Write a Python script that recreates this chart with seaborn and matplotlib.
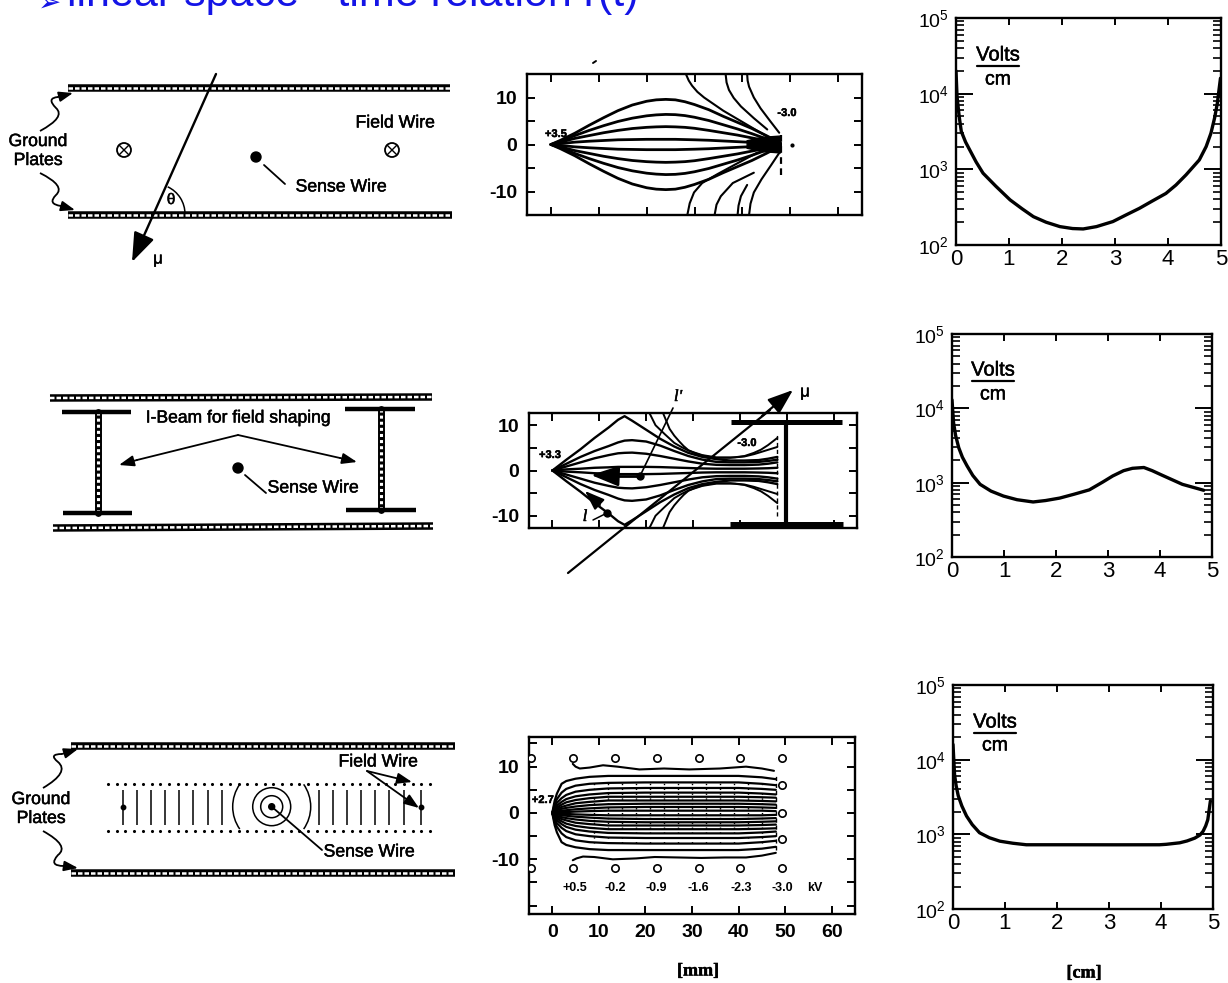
import matplotlib
matplotlib.use("Agg")
import matplotlib.pyplot as plt
import matplotlib.patheffects as pe
from matplotlib.patches import Arc, Circle, PathPatch
from matplotlib.path import Path
import numpy as np
import seaborn as sns

# field strength curves, right column (cm, V/cm)
top_x = [0.0, 0.02, 0.06, 0.1, 0.18, 0.26, 0.38, 0.51, 0.75, 1.02, 1.25, 1.46, 1.7, 1.96, 2.2, 2.4, 2.65, 2.96, 3.2, 3.46, 3.7, 3.96, 4.15, 4.34, 4.59, 4.72, 4.81, 4.88, 4.93, 4.99]
top_e = [20000, 9100, 5000, 3170, 2300, 1800, 1250, 890, 600, 395, 300, 237, 200, 175, 165, 163, 175, 204, 248, 305, 380, 480, 620, 845, 1330, 2000, 3000, 4800, 7400, 16000]
mid_x = [0.0, 0.03, 0.07, 0.13, 0.2, 0.29, 0.4, 0.54, 0.75, 0.99, 1.25, 1.56, 1.8, 2.07, 2.35, 2.64, 2.9, 3.09, 3.3, 3.47, 3.69, 3.85, 4.04, 4.43, 4.84]
mid_e = [13000, 6400, 4300, 2950, 2200, 1680, 1250, 950, 770, 660, 590, 550, 575, 620, 700, 800, 1020, 1230, 1450, 1560, 1600, 1450, 1260, 950, 790]
bot_x = [0.0, 0.03, 0.06, 0.1, 0.17, 0.26, 0.37, 0.51, 0.7, 0.9, 1.15, 1.41, 2.18, 3.14, 3.97, 4.1, 4.36, 4.5, 4.65, 4.75, 4.81, 4.86, 4.9, 4.95]
bot_e = [16000, 6300, 4500, 3300, 2400, 1760, 1350, 1050, 900, 810, 760, 725, 725, 724, 725, 735, 770, 815, 890, 980, 1100, 1300, 1570, 2800]

# field lines, first panel (mm, mm)
a_x = [0, 2, 5, 8, 11, 14, 17, 20, 22, 24, 26, 28, 30, 33, 36, 39, 42, 45, 48]
a_lines = [
    [0, 0.9, 2.4, 4.1, 5.7, 7.2, 8.4, 9.2, 9.5, 9.6, 9.5, 9.1, 8.5, 7.4, 6.0, 4.7, 3.4, 1.9, 0.3],
    [0, 0.7, 1.9, 3, 4, 4.9, 5.6, 6.1, 6.3, 6.4, 6.35, 6.15, 5.8, 5.1, 4.2, 3.3, 2.3, 1.2, 0.2],
    [0, 0.5, 1.3, 1.9, 2.5, 3, 3.4, 3.65, 3.75, 3.8, 3.75, 3.65, 3.45, 3, 2.5, 2, 1.4, 0.8, 0.1],
    [0, 0.2, 0.5, 0.7, 0.85, 1, 1.05, 1.1, 1.1, 1.1, 1.1, 1.05, 1, 0.9, 0.75, 0.6, 0.45, 0.25, 0],
]
a_outer = [
    ([28.2, 28.8, 29.5, 30.6, 32, 34, 36, 38, 40, 43, 45.5], [15, 13.6, 12.5, 11.2, 10, 8.6, 7.2, 6, 4.8, 3, 1.5]),
    ([36.5, 36.7, 37.2, 38.2, 39.7, 42.4, 45.2], [15, 13.2, 11.6, 9.9, 8.1, 5.6, 3.2]),
    ([41, 41.1, 41.4, 42.4, 43.8, 45.8, 47.7], [15, 13.6, 12.3, 10, 7.7, 5, 2.5]),
    ([28.5, 29, 29.9, 31.6, 34.8, 38.6, 43], [-15, -12.5, -10.2, -8.2, -6.3, -4.2, -1.8]),
    ([34.2, 34.6, 35.5, 38, 42.4], [-15, -12.8, -11, -8.2, -6]),
    ([39, 39.2, 39.7, 41], [-15, -13, -11, -8.6]),
    ([41.4, 41.7, 42.4, 44, 46, 47.7], [-15, -12.6, -10.2, -7.4, -4.4, -1.8]),
]
a_blob_x = [41, 44, 48, 48, 44, 41]
a_blob_y = [0.8, 1.5, 1.8, -1.8, -1.5, -0.8]

# field lines, second panel
b_x = [0, 3, 6, 9, 12, 14, 15.4, 17, 20, 23, 26, 29, 32, 35, 38, 41, 44, 46, 48]
b_lines = [
    [0, 2.4, 4.7, 7.2, 9.5, 11.2, 12, 11, 9, 7, 5.3, 3.9, 3, 2.5, 2.2, 2.2, 2.3, 2.6, 3],
    [0, 1.5, 3, 4.3, 5.4, 6.2, 6.6, 6.7, 6.4, 5.5, 4.3, 3.2, 2.4, 1.9, 1.8, 1.8, 1.9, 2.1, 2.4],
    [0, 0.9, 1.8, 2.7, 3.4, 3.8, 3.9, 3.95, 3.7, 3.2, 2.6, 2, 1.5, 1.25, 1.2, 1.2, 1.3, 1.5, 1.8],
    [0, 0.25, 0.4, 0.6, 0.7, 0.8, 0.8, 0.8, 0.8, 0.75, 0.65, 0.55, 0.45, 0.4, 0.4, 0.4, 0.45, 0.5, 0.6],
]
b_arcs = [
    ([23.6, 25, 26, 27, 28, 29, 30.5, 32, 33.5, 35, 38, 41, 43, 44.5, 46, 48], [12.7, 9.2, 7.7, 6.5, 5.4, 4.5, 3.8, 3.3, 3, 2.8, 2.8, 3.2, 3.9, 4.6, 5.6, 7.2]),
    ([20.7, 22, 23, 24, 26, 27.5, 29, 32, 35, 39, 41, 43, 48], [12.7, 10, 9, 8, 6.1, 5.2, 4.4, 3.4, 2.9, 2.9, 3.1, 3.6, 5.2]),
]

# field lines, third panel
c_x = [0, 0.5, 1, 2, 3, 5, 8, 12, 20, 30, 40, 45, 48]
c_lines = [
    [0, 2.6, 4.2, 6.3, 6.9, 7.4, 7.8, 8, 8, 8, 8, 7.7, 7.3],
    [0, 1.9, 3, 4.4, 5.2, 5.9, 6.3, 6.5, 6.6, 6.6, 6.6, 6.3, 6],
    [0, 1.4, 2.2, 3.2, 3.9, 4.6, 5, 5.3, 5.4, 5.4, 5.4, 5.2, 5],
    [0, 1, 1.6, 2.4, 3, 3.6, 4, 4.3, 4.4, 4.4, 4.4, 4.2, 4],
    [0, 0.8, 1.2, 1.8, 2.3, 2.8, 3.2, 3.5, 3.5, 3.5, 3.5, 3.4, 3.3],
    [0, 0.6, 0.9, 1.3, 1.6, 2.1, 2.4, 2.7, 2.7, 2.7, 2.7, 2.6, 2.5],
    [0, 0.4, 0.6, 0.9, 1.1, 1.4, 1.7, 1.9, 2, 2, 2, 1.9, 1.8],
    [0, 0.2, 0.3, 0.5, 0.6, 0.8, 1, 1.2, 1.3, 1.3, 1.3, 1.2, 1.1],
    [0, 0.1, 0.1, 0.2, 0.2, 0.3, 0.4, 0.5, 0.5, 0.5, 0.5, 0.5, 0.4],
]
c_top = ([4.4, 5, 5.9, 8, 10.9, 14, 18.7, 24, 29.4, 36, 41.6, 45, 47.6], [10.6, 10, 9.6, 9.8, 10.3, 10, 9.4, 9.6, 9.4, 9.6, 10, 9.6, 9.1])
c_bot = ([4.4, 5.2, 6.6, 9, 13, 18, 22, 27, 32, 37, 41.6, 45, 48], [-10.2, -9.8, -9.4, -9.5, -10, -9.8, -9.5, -9.6, -9.7, -9.6, -9.6, -9.2, -8.6])
c_wire_x = [-4.5, 4.4, 13.5, 22.5, 31.4, 40.4, 49.4]
c_side_y = [6, 0, -5.7]
c_kv_x = [4.8, 13.5, 22.4, 31.4, 40.5, 49.4, 56.4]
c_kv = ["+0.5", "-0.2", "-0.9", "-1.6", "-2.3", "-3.0", "kV"]

decades = [1e2, 1e3, 1e4, 1e5]

sns.set_theme(style="white")
plt.rcParams["font.family"] = ["Liberation Sans", "DejaVu Sans"]
plt.rcParams["mathtext.default"] = "regular"

W, H = 1228, 983
fig = plt.figure(figsize=(W / 100, H / 100), dpi=100, facecolor="white")


def px_axes(left, top, right, bottom):
    return fig.add_axes([left / W, 1 - bottom / H, (right - left) / W, (bottom - top) / H])


def style_frame(ax):
    for s in ax.spines.values():
        s.set_color("black")
        s.set_linewidth(1.7)


def field_axes(box, xlim, ylim, yticks):
    ax = px_axes(*box)
    ax.set_xlim(*xlim)
    ax.set_ylim(*ylim)
    ax.set_xticks(range(0, 70, 10))
    ax.set_yticks(yticks)
    ax.set_yticklabels([str(t) if t % 10 == 0 else "" for t in yticks])
    ax.tick_params(direction="in", top=True, right=True, left=True, bottom=True,
                   length=6, width=1.4, labelsize=14, pad=7, colors="black")
    for t in ax.get_yticklabels() + ax.get_xticklabels():
        t.set_fontweight("bold")
    style_frame(ax)
    return ax


def curve(ax, x, y, lw=1.5):
    sns.lineplot(x=np.array(x), y=np.array(y), sort=False, estimator=None,
                 color="black", linewidth=lw, ax=ax)


def efield_axes(box, x, e):
    ax = px_axes(*box)
    curve(ax, x, e, lw=2.4)
    ax.set_yscale("log")
    ax.set_xlim(0, 5)
    ax.set_ylim(1e2, 1e5)
    ax.set_yticks(decades)
    ax.set_xticks(range(6))
    ax.tick_params(axis="y", which="major", direction="in", left=True, right=True,
                   length=12, width=1.4, labelsize=14, pad=5, colors="black")
    ax.tick_params(axis="y", which="minor", direction="in", left=True, right=True,
                   length=6, width=1.2, colors="black")
    ax.tick_params(axis="x", direction="in", top=True, bottom=True,
                   length=5, width=1.4, labelsize=16, pad=3, colors="black")
    style_frame(ax)
    return ax


# right column
efield_axes((956, 18, 1221, 245), top_x, top_e)
efield_axes((952, 334, 1212, 557), mid_x, mid_e)
efield_axes((953, 685, 1213, 909), bot_x, bot_e)

# middle column, first panel
ax1 = field_axes((527, 74, 862, 215), (-5, 65), (-15, 15), [-10, -5, 0, 5, 10])
ax1.set_xticklabels([])
for line in a_lines:
    curve(ax1, a_x, line, lw=2)
    curve(ax1, a_x, [-v for v in line], lw=2)
for xs, ys in a_outer:
    curve(ax1, xs, ys, lw=1.5)
ax1.fill(a_blob_x, a_blob_y, color="black")
ax1.vlines(48, -6.5, 2.5, color="black", lw=1.6, linestyle=(0, (3, 2)))
ax1.plot([50.4], [0], "o", color="black", ms=2)

# middle column, second panel
ax2 = field_axes((529, 413, 857, 528), (-5, 65), (-12.7, 12.7), [-10, -5, 0, 5, 10])
ax2.set_xticklabels([])
for line in b_lines:
    curve(ax2, b_x, line, lw=1.7)
    curve(ax2, b_x, [-v for v in line], lw=1.7)
for xs, ys in b_arcs:
    curve(ax2, xs, ys, lw=1.4)
    curve(ax2, xs, [-v for v in ys], lw=1.4)
ax2.vlines(48, -10, 8, color="black", lw=1, linestyle=(0, (3, 2)))

# middle column, third panel
ax3 = field_axes((529, 737, 855, 914), (-5, 65), (-21.8, 16.4), [-20, -15, -10, -5, 0, 5, 10, 15])
ax3.set_yticklabels(["", "", "-10", "", "0", "", "10", ""])
ax3.set_xticklabels(["0", "10", "20", "30", "40", "50", "60"], fontweight="bold")
ax3.tick_params(axis="x", pad=7)
for line in c_lines:
    curve(ax3, c_x, line, lw=1.6)
    curve(ax3, c_x, [-v for v in line], lw=1.6)
curve(ax3, *c_top, lw=1.5)
curve(ax3, *c_bot, lw=1.5)
ax3.vlines(np.arange(9, 48, 3), -6.5, 6.5, color="black", lw=1, linestyle=(0, (1, 2.5)))
ax3.vlines(48, -8, 8, color="black", lw=1, linestyle=(0, (3, 2)))
sns.scatterplot(x=c_wire_x + c_wire_x + [49.4] * 3,
                y=[11.9] * 7 + [-11.8] * 7 + c_side_y,
                facecolor="white", edgecolor="black", linewidth=1.2, s=28, ax=ax3, zorder=5)
for x, lab in zip(c_kv_x, c_kv):
    ax3.text(x, -16.2, lab, ha="center", va="center", fontsize=9, fontweight="bold", color="black")

# overlay in pixel coordinates for the sketches
ov = fig.add_axes([0, 0, 1, 1], zorder=10)
ov.set_xlim(0, W)
ov.set_ylim(H, 0)
ov.axis("off")

plates = [
    (68, 88, 450, 88), (68, 215, 452, 215),
    (50, 398, 432, 397), (53, 528, 433, 526),
    (71, 746, 455, 746), (71, 873, 455, 873),
]
for x0, y0, x1, y1 in plates:
    ov.plot([x0, x1], [y0, y1], color="black", lw=5.4, solid_capstyle="butt")
    ov.plot([x0, x1], [y0, y1], color="white", lw=1.8, dashes=(1.8, 0.8))


def txt(x, y, s, size=12.7, **kw):
    kw.setdefault("ha", "center")
    kw.setdefault("va", "center")
    t = ov.text(x, y, s, fontsize=size, color="black", **kw)
    t.set_path_effects([pe.withStroke(linewidth=0.35, foreground="black")])


def arrow(start, end, lw=1.3, scale=14):
    ov.annotate("", xy=end, xytext=start,
                arrowprops=dict(arrowstyle="-|>,head_length=0.6,head_width=0.22", lw=lw, color="black",
                                mutation_scale=scale, shrinkA=0, shrinkB=0))


def wavy(pts, tip):
    codes = [Path.MOVETO] + [Path.CURVE3] * (len(pts) - 1)
    ov.add_patch(PathPatch(Path(pts, codes), fill=False, ec="black", lw=1.3))
    arrow(pts[-1], tip, lw=1.3, scale=14)


def cross(x, y, r=7):
    ov.add_patch(Circle((x, y), r, fill=False, ec="black", lw=1.3))
    d = r * 0.7
    ov.plot([x - d, x + d], [y - d, y + d], color="black", lw=1)
    ov.plot([x - d, x + d], [y + d, y - d], color="black", lw=1)


# top sketch
txt(38, 151, "Ground\nPlates", linespacing=1.15)
txt(395, 123, "Field Wire")
txt(341, 187, "Sense Wire")
cross(124, 150)
cross(392, 150)
ov.add_patch(Circle((256, 157), 5, color="black"))
ov.plot([264, 285], [165, 184], color="black", lw=1.3)
ov.plot([216, 146], [74, 231], color="black", lw=1.7)
arrow((146, 231), (132, 262), lw=1.7, scale=30)
ov.add_patch(Arc((155, 214), 60, 60, theta1=-65, theta2=0, ec="black", lw=1.1))
txt(171, 200, "θ", size=11)
txt(158, 259, "μ", size=12)
wavy([(40, 131), (66, 117), (56, 108), (46, 98), (58, 97)], (73, 93))
wavy([(40, 173), (66, 186), (56, 195), (47, 204), (61, 206)], (75, 210))

# middle sketch
beams = [(98, 412, 513, 62, 131), (381, 409, 510, 345, 415)]
for x, y0, y1, fl, fr in beams:
    ov.plot([x, x], [y0, y1], color="black", lw=5)
    ov.plot([x, x], [y0, y1], color="white", lw=2.2, dashes=(1, 1))
    ov.plot([fl, fr], [y0, y0], color="black", lw=3.2, solid_capstyle="butt")
    ov.plot([fl + 1, fr + 1], [y1, y1], color="black", lw=3.2, solid_capstyle="butt")
txt(238, 418, "I-Beam for field shaping", size=12.6)
ov.plot([238, 137], [435, 460], color="black", lw=1.3)
ov.plot([238, 340], [435, 458], color="black", lw=1.3)
arrow((137, 460), (119, 465), scale=15)
arrow((340, 458), (357, 462), scale=15)
ov.add_patch(Circle((238, 468), 5, color="black"))
ov.plot([245, 266], [475, 493], color="black", lw=1.3)
txt(313, 488, "Sense Wire")

# bottom sketch
txt(41, 809, "Ground\nPlates", linespacing=1.15)
wavy([(43, 788), (70, 772), (58, 762), (48, 754), (62, 754)], (78, 749))
wavy([(43, 831), (70, 846), (58, 855), (48, 866), (64, 866)], (78, 868))
for row_y in (784, 831):
    ov.scatter(np.arange(108, 435, 8.7), [row_y] * 38, s=5, color="black", lw=0)
line_xs = [123, 137, 151, 165, 179, 193, 208, 222, 319, 333, 347, 361, 375, 389, 404, 421]
ov.vlines(line_xs, 790, 825, color="black", lw=1.1)
ov.add_patch(Arc((271.7, 806.7), 78, 78, theta1=145, theta2=215, ec="black", lw=1.1))
ov.add_patch(Arc((271.7, 806.7), 78, 78, theta1=-35, theta2=35, ec="black", lw=1.1))
for r in (19, 11):
    ov.add_patch(Circle((271.7, 806.7), r, fill=False, ec="black", lw=1.1))
ov.add_patch(Circle((271.7, 806.7), 3, color="black"))
ov.plot([271.7, 322], [806.7, 850], color="black", lw=1.3)
ov.plot([123, 421], [807, 807], ls="", marker="o", ms=3.2, color="black")
txt(369, 852, "Sense Wire")
txt(378, 762, "Field Wire")
arrow((367, 771), (412, 782), scale=15)
arrow((367, 771), (419, 808), scale=15)

# labels on the field panels
txt(556, 134, "+3.5", size=8, fontweight="bold")
txt(787, 113, "-3.0", size=8, fontweight="bold")
txt(550, 455, "+3.3", size=8, fontweight="bold")
txt(747, 443, "-3.0", size=8, fontweight="bold")
txt(543, 800, "+2.7", size=8, fontweight="bold")
ov.plot([593, 596], [63, 61], color="black", lw=1.4)

# second panel overlays
ov.plot([731, 842], [422, 422], color="black", lw=3.6, solid_capstyle="butt")
ov.plot([730, 843], [524, 524], color="black", lw=3.6, solid_capstyle="butt")
ov.plot([786, 786], [422, 524], color="black", lw=3)
ov.plot([568, 770], [573, 410], color="black", lw=1.6)
arrow((762, 416), (793, 390), lw=1.6, scale=26)
ov.plot([673, 640], [408, 476], color="black", lw=1.2)
ov.plot([640], [476], "o", color="black", ms=5)
ov.plot([640, 615], [476, 476], color="black", lw=2)
arrow((615, 476), (591, 475), lw=2, scale=28)
ov.plot([593, 607], [520, 513], color="black", lw=1.1)
ov.plot([607], [513], "o", color="black", ms=5)
arrow((600, 505), (585, 491), lw=1.4, scale=20)
txt(678, 397, "l'", size=12, fontstyle="italic", family="Liberation Serif")
txt(585, 517, "l", size=12, fontstyle="italic", family="Liberation Serif")
txt(805, 392, "μ", size=12)

# Volts / cm fractions
for cx, vy, by, cy in [(998, 55, 66, 80), (993, 370, 381, 395), (995, 722, 733, 746)]:
    txt(cx, vy, "Volts", size=14.5)
    ov.plot([cx - 21, cx + 21], [by, by], color="black", lw=1.6)
    txt(cx, cy, "cm", size=14)

txt(698, 971, "[mm]", size=13, family="Liberation Serif", fontweight="bold")
txt(1084, 973, "[cm]", size=13, family="Liberation Serif", fontweight="bold")

# title, cut by the top of the page as in the scan
ov.text(38, 12, "➢", fontsize=20, color="#1414e6", ha="left", va="baseline", clip_on=False)
ov.text(67, 6, "linear space - time relation r(t)", fontsize=31, color="#1414e6",
        ha="left", va="baseline", clip_on=False)

fig.savefig("out.png", dpi=100, facecolor="white")
